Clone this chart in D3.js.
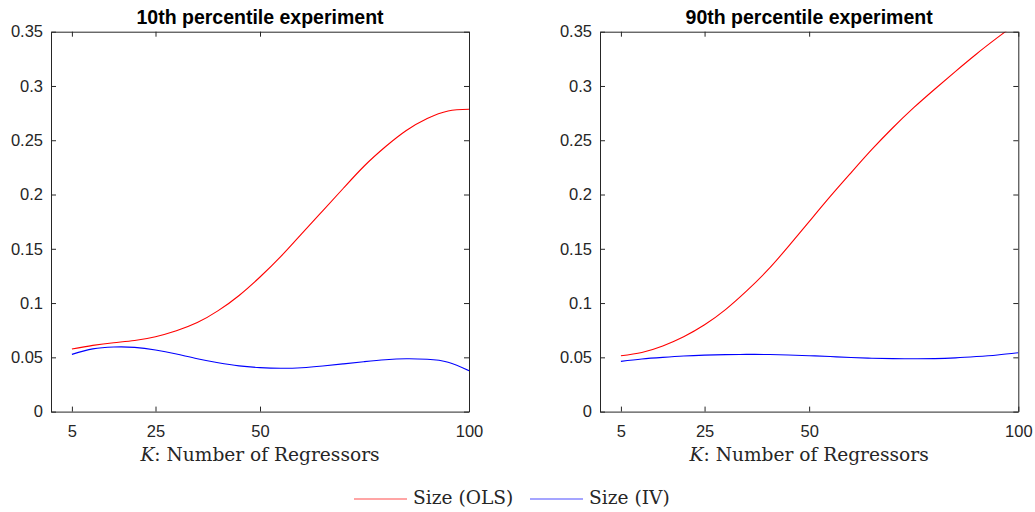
<!DOCTYPE html>
<html><head><meta charset="utf-8">
<script src="https://cdn.jsdelivr.net/npm/d3@7"></script>
<style>body{margin:0;background:#fff;} svg{display:block;}</style>
</head><body>
<svg id="c" width="1035" height="512"></svg>
<script>
const K = [5,10,15,20,25,30,35,40,45,50,55,60,65,70,75,80,85,90,95,100];
const olsP10 = [0.0576,0.0610,0.0635,0.0655,0.0690,0.0745,0.0820,0.0930,0.1070,0.1240,0.1430,0.1640,0.1850,0.2060,0.2265,0.2440,0.2590,0.2700,0.2770,0.2785];
const ivP10  = [0.0527,0.0578,0.0595,0.0592,0.0568,0.0530,0.0487,0.0450,0.0421,0.0405,0.0399,0.0404,0.0420,0.0440,0.0460,0.0478,0.0487,0.0482,0.0455,0.0377];
const olsP90 = [0.0515,0.0545,0.0605,0.0690,0.0800,0.0940,0.1110,0.1300,0.1520,0.1750,0.1980,0.2200,0.2415,0.2615,0.2800,0.2970,0.3135,0.3295,0.3445,0.3590];
const ivP90  = [0.0463,0.0485,0.0500,0.0512,0.0520,0.0525,0.0527,0.0526,0.0522,0.0515,0.0507,0.0498,0.0492,0.0488,0.0487,0.0488,0.0495,0.0507,0.0522,0.0542];
const titles = ["10th percentile experiment","90th percentile experiment"];
const xTicks = [5,25,50,100];
const yTicks = [0,0.05,0.1,0.15,0.2,0.25,0.3,0.35];
const seriesNames = ["Size (OLS)","Size (IV)"];
const colors = ["#ff0000","#0000ff"];

const svg = d3.select("#c");
const panels = [
  {x0:51, x1:469, ols:olsP10, iv:ivP10, title:titles[0]},
  {x0:600, x1:1018.3, ols:olsP90, iv:ivP90, title:titles[1]}
];
const yTop = 31.7, yBot = 411.6;
const axisColor = "#262626";
const serif = "'DejaVu Serif', 'Liberation Serif', serif";
const fmt = d => d===0 ? "0" : String(+d.toFixed(2));

panels.forEach((p,i) => {
  const x = d3.scaleLinear().domain([0,100]).range([p.x0,p.x1]);
  const y = d3.scaleLinear().domain([0,0.35]).range([yBot,yTop]);
  const g = svg.append("g");
  const cid = "clip"+i;
  svg.append("clipPath").attr("id",cid).append("rect")
    .attr("x",p.x0).attr("y",yTop).attr("width",p.x1-p.x0).attr("height",yBot-yTop);

  const line = d3.line().x((d,j)=>x(K[j])).y(d=>y(d)).curve(d3.curveNatural);
  [p.ols,p.iv].forEach((s,k)=>{
    g.append("path").attr("d",line(s)).attr("fill","none").attr("stroke",colors[k])
      .attr("stroke-width",1.1).attr("clip-path","url(#"+cid+")");
  });

  const bottom = g.append("g").attr("transform",`translate(0,${yBot})`)
    .call(d3.axisBottom(x).tickValues(xTicks).tickSizeInner(-5).tickSizeOuter(0).tickPadding(14));
  const top = g.append("g").attr("transform",`translate(0,${yTop})`)
    .call(d3.axisTop(x).tickValues(xTicks).tickSizeInner(-5).tickSizeOuter(0).tickFormat(""));
  const left = g.append("g").attr("transform",`translate(${p.x0},0)`)
    .call(d3.axisLeft(y).tickValues(yTicks).tickSizeInner(-5).tickSizeOuter(0).tickPadding(8).tickFormat(fmt));
  const right = g.append("g").attr("transform",`translate(${p.x1},0)`)
    .call(d3.axisRight(y).tickValues(yTicks).tickSizeInner(-5).tickSizeOuter(0).tickFormat(""));
  [bottom,top,left,right].forEach(a=>{
    a.select(".domain").attr("stroke",axisColor).attr("stroke-width",1);
    a.selectAll(".tick line").attr("stroke",axisColor).attr("stroke-width",1);
    a.selectAll(".tick text").attr("fill",axisColor)
      .style("font-family","'Liberation Sans', Arial, sans-serif").style("font-size","16.5px");
  });

  g.append("text").attr("x",(p.x0+p.x1)/2).attr("y",24).attr("text-anchor","middle")
    .style("font-family","'Liberation Sans', Arial, sans-serif").style("font-size","19.5px")
    .style("font-weight","bold").attr("fill","#000").text(p.title);

  const xl = g.append("text").attr("x",(p.x0+p.x1)/2).attr("y",461).attr("text-anchor","middle")
    .style("font-family",serif).style("font-size","18.6px").attr("fill","#262626");
  xl.append("tspan").style("font-style","italic").text("K");
  xl.append("tspan").text(": Number of Regressors");
});

const leg = svg.append("g");
const legItems = [{x1:354,x2:407,tx:413},{x1:530,x2:583,tx:589}];
seriesNames.forEach((n,k)=>{
  leg.append("line").attr("x1",legItems[k].x1).attr("x2",legItems[k].x2).attr("y1",499).attr("y2",499)
    .attr("stroke",colors[k]).attr("stroke-width",1).attr("opacity",0.7);
  leg.append("text").attr("x",legItems[k].tx).attr("y",503.5)
    .style("font-family",serif).style("font-size","18.6px")
    .attr("fill","#262626").text(n);
});
</script>
</body></html>
